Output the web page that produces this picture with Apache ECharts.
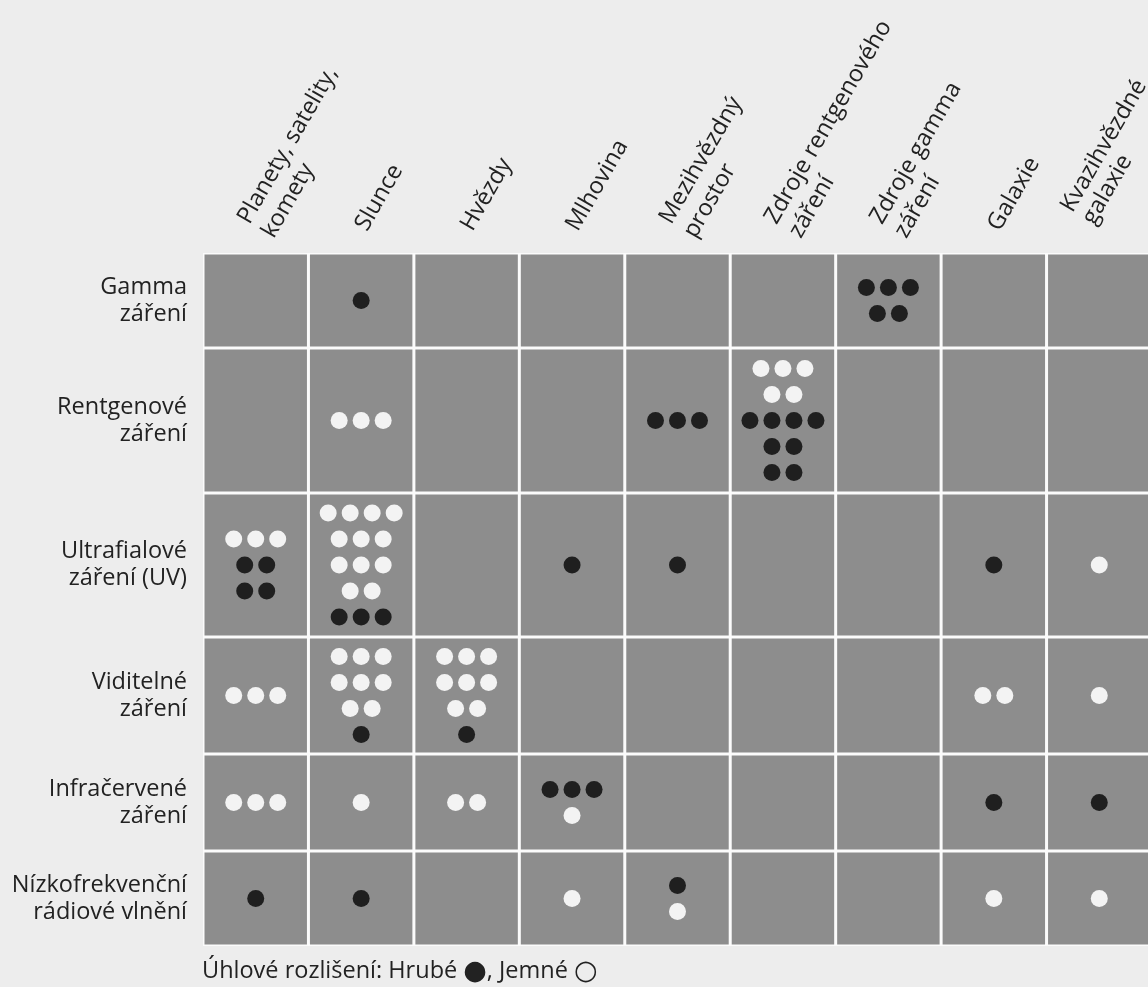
<!DOCTYPE html>
<html>
<head>
<meta charset="utf-8">
<title>Úhlové rozlišení</title>
<script src="https://cdn.jsdelivr.net/npm/echarts@6/dist/echarts.min.js"></script>
<style>
  html, body { margin: 0; padding: 0; background: #ededed; }
  #chart { width: 1148px; height: 987px; }
</style>
</head>
<body>
<div id="chart"></div>
<script>
  // sloupce: zdroje
  const objects = ['Planety, satelity,\nkomety', 'Slunce', 'Hvězdy', 'Mlhovina', 'Mezihvězdný\nprostor',
    'Zdroje rentgenového\nzáření', 'Zdroje gamma\nzáření', 'Galaxie', 'Kvazihvězdné\ngalaxie']
  // řádky: druhy záření
  const bands = ['Gamma\nzáření', 'Rentgenové\nzáření', 'Ultrafialové\nzáření (UV)', 'Viditelné\nzáření',
    'Infračervené\nzáření', 'Nízkofrekvenční\nrádiové vlnění']

  // tečky v buňce: b = hrubé (černá), w = jemné (bílá), řady teček oddělené '/'
  const gamma    = ['', 'b', '', '', '', '', 'bbb/bb', '', '']
  const rentgen  = ['', 'www', '', '', 'bbb', 'www/ww/bbbb/bb/bb', '', '', '']
  const uv       = ['www/bb/bb', 'wwww/www/www/ww/bbb', '', 'b', 'b', '', '', 'b', 'w']
  const visible  = ['www', 'www/www/ww/b', 'www/www/ww/b', '', '', '', '', 'ww', 'w']
  const infrared = ['www', 'w', 'ww', 'bbb/w', '', '', '', 'b', 'b']
  const radio    = ['b', 'b', '', 'w', 'b/w', '', '', 'w', 'w']
  const cells = [gamma, rentgen, uv, visible, infrared, radio]

  // legenda
  const legendText = '{t|Úhlové rozlišení: Hrubé }{s|●}{t|, Jemné }{s|○}'

  // layout
  const rowHeights = [95, 145, 144, 117, 97, 95]
  const rowStart = []
  let acc = 0
  rowHeights.forEach(h => { rowStart.push(acc); acc += h })
  const total = acc
  const rowCenters = rowStart.map((s, i) => s + rowHeights[i] / 2)

  const DOT_R = 8.5
  const DOT_DX = 22
  const DOT_DY = 26
  const FONT = "'Open Sans', sans-serif"
  const FS = 23.5

  const data = []
  const patterns = []
  cells.forEach((row, r) => row.forEach((p, c) => {
    data.push([c, r])
    patterns.push(p)
  }))

  // poslední popisek je v předloze posunutý doleva, aby se vešel
  const xLabels = objects.map((name, i) => i === objects.length - 1
    ? { value: name, textStyle: { verticalAlign: 'bottom', lineHeight: 25 } }
    : name)

  function renderCell(params, api) {
    const c = api.value(0)
    const r = api.value(1)
    const cx = api.coord([c, 0])[0]
    const w = api.size([1, 0])[0]
    const y0 = api.coord([c, rowStart[r]])[1]
    const y1 = api.coord([c, rowStart[r] + rowHeights[r]])[1]
    const cy = (y0 + y1) / 2
    const children = [{
      type: 'rect',
      shape: { x: cx - w / 2 + 1.5, y: y0 + 1.5, width: w - 3, height: y1 - y0 - 3 },
      style: { fill: '#8d8d8d' }
    }]
    const pattern = patterns[params.dataIndex]
    if (pattern) {
      const lines = pattern.split('/')
      lines.forEach((line, i) => {
        const y = cy + (i - (lines.length - 1) / 2) * DOT_DY
        line.split('').forEach((ch, j) => {
          children.push({
            type: 'circle',
            shape: { cx: cx + (j - (line.length - 1) / 2) * DOT_DX, cy: y, r: DOT_R },
            style: { fill: ch === 'b' ? '#1f1f1f' : '#f3f3f3' }
          })
        })
      })
    }
    return { type: 'group', children: children }
  }

  const chart = echarts.init(document.getElementById('chart'))
  chart.setOption({
    backgroundColor: '#ededed',
    textStyle: { fontFamily: FONT },
    animation: false,
    title: {
      text: legendText,
      left: 197,
      top: 953,
      textStyle: {
        fontWeight: 'normal',
        rich: {
          t: { fontFamily: FONT, fontSize: FS, fontWeight: 'normal', color: '#222' },
          s: { fontFamily: 'DejaVu Sans', fontSize: 27, fontWeight: 'normal', color: '#222' }
        }
      }
    },
    grid: {
      left: 203,
      top: 253,
      width: 949,
      height: total,
      outerBoundsMode: 'none',
      show: true,
      backgroundColor: '#fbfbfb',
      borderWidth: 0
    },
    xAxis: {
      type: 'category',
      data: xLabels,
      position: 'top',
      axisLine: { show: false },
      axisTick: { show: false },
      splitLine: { show: false },
      axisLabel: {
        interval: 0,
        rotate: 60,
        margin: 24,
        align: 'left',
        verticalAlign: 'middle',
        fontSize: FS,
        lineHeight: 28,
        color: '#222'
      }
    },
    yAxis: {
      type: 'value',
      inverse: true,
      min: 0,
      max: total,
      axisLine: { show: false },
      axisTick: { show: false },
      splitLine: { show: false },
      axisLabel: {
        customValues: rowCenters,
        formatter: v => bands[rowCenters.indexOf(v)] || '',
        margin: 16,
        fontSize: FS,
        lineHeight: 27,
        color: '#222'
      }
    },
    series: [{
      type: 'custom',
      renderItem: renderCell,
      data: data,
      clip: false
    }]
  })
</script>
</body>
</html>
